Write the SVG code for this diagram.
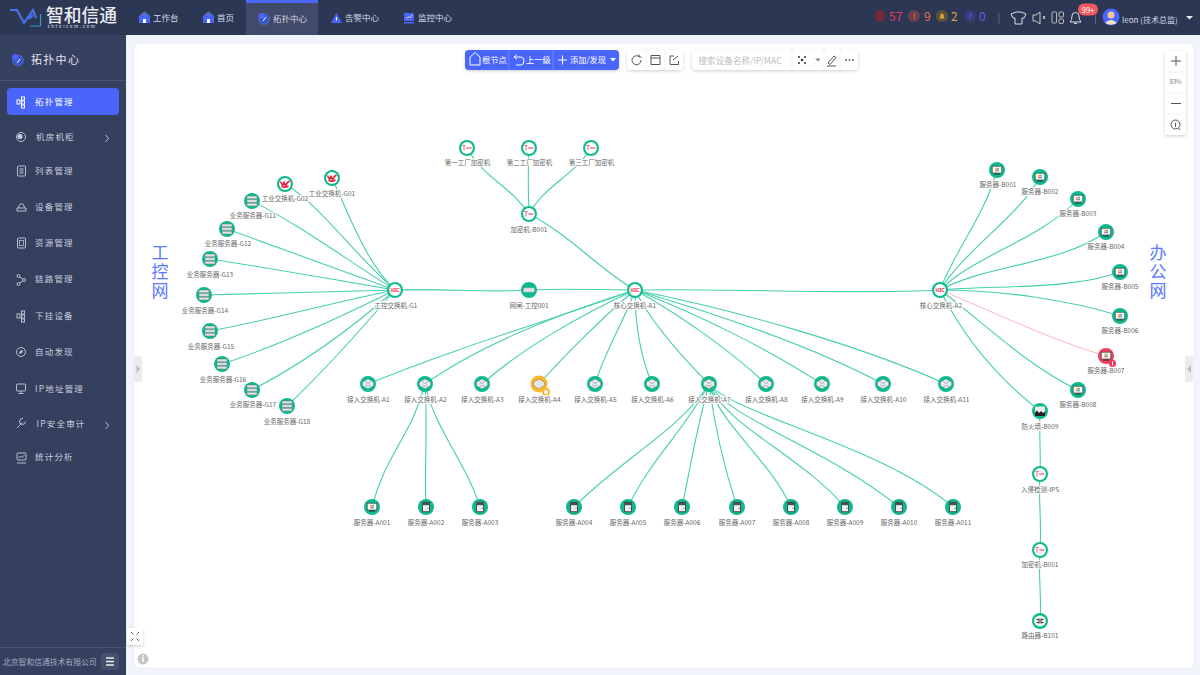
<svg xmlns="http://www.w3.org/2000/svg" xmlns:xlink="http://www.w3.org/1999/xlink" width="1200" height="675" viewBox="0 0 1200 675">
<style>
text{font-family:"Noto Sans CJK SC","Noto Sans",sans-serif}
.lb{font-size:6.5px;fill:#666;text-anchor:middle;paint-order:stroke;stroke:#fff;stroke-width:2px;stroke-linejoin:round}
.e{fill:none;stroke:#45d0ab;stroke-width:1.1}
.e2{fill:none;stroke:#ffb6c1;stroke-width:1}
.tab{font-size:8.5px;fill:#d5d9e6}
.side{font-size:8.5px;fill:#c9cede;letter-spacing:1.2px}
.ic{fill:none;stroke:#c9cede;stroke-width:.9}
.tb{font-size:8.2px;fill:#fff}
.tic{fill:none;stroke:#555;stroke-width:1}
.wic{fill:none;stroke:#fff;stroke-width:1}
.big{font-size:17px;fill:#5a78ff;writing-mode:vertical-rl;letter-spacing:2px}
.wm{font-size:17px;fill:#000;fill-opacity:.02;text-anchor:middle}
.num{font-size:12px}
.mk{font-size:7px;text-anchor:middle;font-weight:700}
</style>
<defs>
<filter id="sh" x="-20%" y="-30%" width="140%" height="170%"><feDropShadow dx="0" dy="1" stdDeviation="1.5" flood-color="#000" flood-opacity=".2"/></filter>
<clipPath id="pc"><rect x="134" y="43" width="1060" height="625" rx="5"/></clipPath>
<text id="wmt" class="wm" transform="rotate(-20)">北京智和信通技术有限公司</text>
<g id="h3c"><circle r="8" fill="#0fb98f"/><circle r="5.900" fill="#fff"/><text y="1.600" font-size="4.600" font-weight="700" fill="#ee2040" text-anchor="middle" style="font-family:'Liberation Sans',sans-serif">H3C</text></g>
<g id="ws"><circle r="8" fill="#0fb98f"/><circle r="5.900" fill="#fff"/><path d="M-4.500-2.500L-2.500 1.500-1-1.500 .8 1.500 2.500-1.500 4.500-3M-3.500 2.500Q0 4 3.500 2" fill="none" stroke="#e8203c" stroke-width="1.600"/></g>
<g id="rack"><circle r="8" fill="#0fb98f"/><g fill="#dfe1e4" stroke="#777" stroke-width=".5"><rect x="-5" y="-5" width="10" height="2.800" rx=".6"/><rect x="-5" y="-1.400" width="10" height="2.800" rx=".6"/><rect x="-5" y="2.200" width="10" height="2.800" rx=".6"/></g></g>
<g id="gw"><circle r="8" fill="#0fb98f"/><rect x="-5.500" y="-2.200" width="11" height="4.400" rx="1" fill="#e4e4e4" stroke="#888" stroke-width=".4"/></g>
<g id="enc"><circle r="8" fill="#0fb98f"/><circle r="5.900" fill="#fff"/><path d="M-4.500-2.500H-1.500M-3-2.500V2.500" stroke="#e8405a" stroke-width=".8" fill="none"/><rect x="-.8" y="-.7" width="5.300" height="1.400" fill="#ef6a7c"/></g>
<g id="acc"><circle r="8" fill="#0fb98f"/><path d="M0-5L5.500-1.800V1.500L0 4.800-5.500 1.500V-1.800Z" fill="#eceef0" stroke="#888" stroke-width=".5"/><path d="M-2.500-2L0-.5 2.500-2M-2.500 1L0 2.400 2.500 1" stroke="#777" stroke-width=".6" fill="none"/></g>
<g id="pc1"><circle r="8" fill="#0fb98f"/><rect x="-4.800" y="-3.800" width="9.600" height="6.800" fill="#fafafa" stroke="#444" stroke-width=".7"/><rect x="-3" y="3.600" width="6" height="1" fill="#333"/><rect x="-1.700" y="-2.200" width="1.600" height="1.600" fill="#f4a72c"/><rect x=".2" y="-2.200" width="1.600" height="1.600" fill="#3fb55f"/><rect x="-1.700" y="-.3" width="1.600" height="1.600" fill="#e85a4a"/><rect x=".2" y="-.3" width="1.600" height="1.600" fill="#3d8fe0"/></g>
<g id="pc2"><circle r="8" fill="#e8415f"/><rect x="-4.800" y="-3.800" width="9.600" height="6.800" fill="#fafafa" stroke="#444" stroke-width=".7"/><rect x="-3" y="3.600" width="6" height="1" fill="#333"/><rect x="-1.700" y="-2.200" width="1.600" height="1.600" fill="#f4a72c"/><rect x=".2" y="-2.200" width="1.600" height="1.600" fill="#3fb55f"/><rect x="-1.700" y="-.3" width="1.600" height="1.600" fill="#e85a4a"/><rect x=".2" y="-.3" width="1.600" height="1.600" fill="#3d8fe0"/></g>
<g id="tw"><circle r="8" fill="#0fb98f"/><rect x="-4" y="-5.200" width="8" height="10.400" rx=".8" fill="#4a4f52"/><rect x="-3" y="-1.800" width="6" height="6" fill="#eee"/><circle cx="2" cy="1.200" r=".5" fill="#333"/></g>
<g id="fw"><circle r="8" fill="#0fb98f"/><rect x="-5" y="-4.500" width="10" height="9" fill="#ececec"/><path d="M-5 5V1.500L-3-.5-1 2 1 0 3 2 5 .5V5Z" fill="#222"/></g>
<g id="rt"><circle r="8" fill="#0fb98f"/><ellipse rx="6" ry="5.400" fill="#f2f2f2"/><path d="M-3.500-1.500H-1M-3.500 1.500H-1M1-1.500H3.500M1 1.500H3.500M-1-2.500V2.500M1-2.500V2.500" stroke="#222" stroke-width=".9"/></g>
<g id="house"><path d="M0-5.500L5.500-.5V5H-5.500V-.5Z" fill="#4a66ff"/><path d="M-6-1L0-6 6-1" fill="none" stroke="#8797c8" stroke-width=".8"/><rect x="-1.500" y="1" width="3" height="4" fill="#fff"/></g>
</defs>

<rect width="1200" height="675" fill="#f2f4fc"/>
<rect x="134" y="43" width="1060" height="625" rx="5" fill="#fff" stroke="#e8eaf2" stroke-width=".6"/>
<g clip-path="url(#pc)">
<use xlink:href="#wmt" transform="translate(178,80)"/><use xlink:href="#wmt" transform="translate(525,80)"/><use xlink:href="#wmt" transform="translate(872,80)"/><use xlink:href="#wmt" transform="translate(1219,80)"/>
<use xlink:href="#wmt" transform="translate(178,252)"/><use xlink:href="#wmt" transform="translate(525,252)"/><use xlink:href="#wmt" transform="translate(872,252)"/><use xlink:href="#wmt" transform="translate(1219,252)"/>
<use xlink:href="#wmt" transform="translate(178,423)"/><use xlink:href="#wmt" transform="translate(525,423)"/><use xlink:href="#wmt" transform="translate(872,423)"/><use xlink:href="#wmt" transform="translate(1219,423)"/>
<use xlink:href="#wmt" transform="translate(178,595)"/><use xlink:href="#wmt" transform="translate(525,595)"/><use xlink:href="#wmt" transform="translate(872,595)"/><use xlink:href="#wmt" transform="translate(1219,595)"/>
</g>

<g id="topbar">
<rect width="1200" height="35" fill="#2c3754"/>
<rect x="246" width="72" height="35" fill="#414a68"/><rect x="246" width="72" height="3" fill="#4a66ff"/>
<path d="M10 10H17L24 23 33 10 36 18M29 19L33 15" fill="none" stroke="#4a70e8" stroke-width="2.200"/>
<path d="M30 26H40.500V14" fill="none" stroke="#2a9fd0" stroke-width="1.200"/>
<text y="22" fill="#e9ebf2" font-weight="500"><tspan x="46" font-size="17.800">智和信通</tspan><tspan x="47.500" dy="5.500" font-size="4.400" letter-spacing="1.600" fill="#c8ccd8">zhtolcom.com</tspan></text>
<use xlink:href="#house" x="144.500" y="18"/><use xlink:href="#house" x="208.500" y="18"/>
<circle cx="264" cy="19" r="5.500" fill="#3a55d0" stroke="#6a7aa8" stroke-width=".5"/><circle cx="261.500" cy="16" r="3" fill="#4a66ff"/><path d="M263 21L266 17" stroke="#fff" stroke-width="1"/>
<path d="M331 23L336.500 13 342 23Z" fill="#4a66ff"/><rect x="336" y="17" width="1" height="3.500" fill="#fff"/>
<rect x="404" y="13" width="10" height="8" rx="1" fill="#4a66ff"/><rect x="404" y="22" width="10" height="1.500" fill="#4a66ff"/><path d="M406 19L408 16.500 410 18 412 15" fill="none" stroke="#fff" stroke-width=".7"/>
<text class="tab" x="153" y="21">工作台</text><text class="tab" x="217" y="21">首页</text><text class="tab" x="273" y="22" fill="#fff">拓扑中心</text><text class="tab" x="345" y="21">告警中心</text><text class="tab" x="418" y="21">监控中心</text>
<circle cx="880" cy="16" r="6" fill="#6d2a3f"/><text class="num" x="889" y="21" fill="#e8385a">57</text>
<circle cx="914" cy="16" r="6" fill="#6b4048"/><text class="mk" x="914" y="18.500" fill="#e8734a">!</text><text class="num" x="924" y="21" fill="#e8734a">9</text>
<circle cx="942" cy="16" r="6" fill="#5e5338"/><path d="M939.500 18.500Q940.500 17 940.500 15A1.500 1.500 0 0 1 943.500 15Q943.500 17 944.500 18.500Z" fill="#e0a83a"/><text class="num" x="951" y="21" fill="#e0a83a">2</text>
<circle cx="970" cy="16" r="6" fill="#3c3a78"/><text class="mk" x="970" y="18.500" fill="#6a5af0">?</text><text class="num" x="979" y="21" fill="#6a5af0">0</text>
<rect x="998.500" y="13" width="1" height="11" fill="#5a6480"/>
<path d="M1011 14L1016 12H1021L1026 14 1024 18H1022V24H1015V18H1013Z" fill="none" stroke="#ddd" stroke-width="1"/>
<path d="M1033 15H1036L1040 12V24L1036 21H1033ZM1043 16L1045 19M1045 16L1043 19" fill="none" stroke="#ccc" stroke-width="1"/>
<g fill="none" stroke="#bbb" stroke-width="1"><rect x="1052" y="12" width="4.500" height="11" rx="1"/><rect x="1059" y="12" width="4.500" height="5" rx="1"/><rect x="1059" y="19" width="4.500" height="4.500" rx="1"/></g>
<path d="M1070 22Q1072 20 1072 16A3.500 3.500 0 0 1 1079 16Q1079 20 1081 22ZM1074 23.500H1077" fill="none" stroke="#ddd" stroke-width="1"/>
<rect x="1078" y="3.500" width="20" height="12" rx="6" fill="#f05a5f"/><text x="1088" y="12.500" font-size="7.500" fill="#fff" text-anchor="middle">99+</text>
<rect x="1095" y="15" width="1" height="9" fill="#5a6480"/>
<circle cx="1111" cy="17" r="8.500" fill="#4a66ff"/><circle cx="1111" cy="15" r="3.500" fill="#f4c69a"/><path d="M1105 23Q1111 17 1117 23Q1111 26.500 1105 23Z" fill="#f6e4c8"/>
<text x="1122" y="23" font-size="8" fill="#d5d9e6">leon (技术总监)</text>
<path d="M1186 16H1193L1189.500 19.500Z" fill="#eee"/>
</g>

<g id="sidebar">
<rect y="35" width="126" height="640" fill="#35405f"/>
<rect y="80" width="126" height="1" fill="#4a5472"/>
<circle cx="18" cy="60.500" r="5.500" fill="#3a55d0" stroke="#6a7aa8" stroke-width=".5"/><circle cx="15" cy="57" r="3" fill="#4a66ff"/><path d="M17 63L20 59" stroke="#fff" stroke-width="1"/>
<text x="31" y="64" font-size="11" fill="#e2e5ee" letter-spacing="1.300">拓扑中心</text>
<rect x="7" y="88" width="112" height="27" rx="4" fill="#4a66fa"/>
<g class="wic"><rect x="17" y="100" width="3" height="4"/><rect x="21.500" y="97" width="3" height="3"/><rect x="21.500" y="101" width="3" height="3"/><rect x="21.500" y="105" width="3" height="3"/></g>
<text class="side" x="35" y="105" style="fill:#fff">拓扑管理</text>
<circle class="ic" cx="21" cy="137" r="4.500"/><circle cx="20" cy="136.500" r="2.500" fill="#c9cede"/><text class="side" x="36" y="140">机房机柜</text><path class="ic" d="M105.500 135L108.500 138.500 105.500 142"/>
<rect class="ic" x="17.500" y="166" width="8" height="10" rx="1"/><path class="ic" d="M19.500 169H23.500M19.500 171H23.500M19.500 173H23.500"/><text class="side" x="35" y="174">列表管理</text>
<path class="ic" d="M17 208H26V211H17ZM18.500 208Q19 203.500 21.500 203.500T24.500 208"/><text class="side" x="35" y="210">设备管理</text>
<rect class="ic" x="17.500" y="238" width="8" height="10" rx="1"/><rect x="19.500" y="240.500" width="4" height="5" fill="none" stroke="#c9cede" stroke-width=".7"/><text class="side" x="35" y="246">资源管理</text>
<g class="ic"><circle cx="18.500" cy="276" r="1.500"/><circle cx="24" cy="280" r="1.500"/><circle cx="18.500" cy="284" r="1.500"/><path d="M20 277L22.700 279M20 283L22.700 281"/></g><text class="side" x="35" y="282">链路管理</text>
<g class="ic"><rect x="17" y="314" width="3" height="4"/><rect x="21.500" y="311" width="3" height="3"/><rect x="21.500" y="315" width="3" height="3"/><rect x="21.500" y="319" width="3" height="3"/></g><text class="side" x="35" y="319">下挂设备</text>
<circle class="ic" cx="21" cy="352" r="4.500"/><path d="M19 354L20 351 23 350 22 353Z" fill="#c9cede"/><text class="side" x="35" y="355">自动发现</text>
<rect class="ic" x="16.500" y="384" width="9" height="7" rx="1"/><path class="ic" d="M21 391V393M18.500 393.500H23.500"/><text class="side" x="35" y="392">IP地址管理</text>
<path class="ic" d="M17 428L22.500 422.500M23 418.500A3 3 0 1 0 25.500 421.500"/><text class="side" x="36.500" y="427">IP安全审计</text><path class="ic" d="M105.500 422L108.500 425.500 105.500 429"/>
<rect class="ic" x="17" y="453" width="9" height="7" rx="1"/><path class="ic" d="M17 463H26M18.500 458L20.500 456 22 457.500 24.500 455"/><text class="side" x="35" y="460">统计分析</text>
<rect y="647" width="126" height="1" fill="#4a5472"/>
<text x="3" y="665" font-size="7.800" fill="#a6acc0">北京智和信通技术有限公司</text>
<rect x="101" y="653" width="18" height="17" rx="3" fill="#454f6e"/><path d="M106 658H114M106 661.500H114M106 665H114" stroke="#eee" stroke-width="1.400"/>
</g>

<g id="connectors">
<path class="e" d="M332,178C345,205 365,262 395,290"/>
<path class="e" d="M285,184C320,205 350,250 395,290"/>
<path class="e" d="M252,201C300,225 350,262 395,290"/>
<path class="e" d="M227,229C285,250 340,270 395,290"/>
<path class="e" d="M210,259C270,268 335,280 395,290"/>
<path class="e" d="M204,295C265,294 330,292 395,290"/>
<path class="e" d="M210,331C270,320 335,302 395,290"/>
<path class="e" d="M222,364C280,345 345,315 395,290"/>
<path class="e" d="M252,390C300,365 350,330 395,290"/>
<path class="e" d="M287,406C320,375 365,325 395,290"/>
<path class="e" d="M395,290C440,288 490,293 529,290"/>
<path class="e" d="M529,290C565,288 600,290 635,290"/>
<path class="e" d="M635,290C730,288 850,295 940,290"/>
<path class="e" d="M467,148C485,180 510,185 529,214"/>
<path class="e" d="M529,148C528,170 528,190 529,214"/>
<path class="e" d="M591,148C575,175 545,185 529,214"/>
<path class="e" d="M529,214C570,235 600,270 635,290"/>
<path class="e" d="M635,290C550,320 450,350 368,384"/>
<path class="e" d="M635,290C555,315 480,345 425,384"/>
<path class="e" d="M635,290C580,315 520,350 482,384"/>
<path class="e" d="M635,290C605,315 560,360 539,384"/>
<path class="e" d="M635,290C625,320 605,350 595,384"/>
<path class="e" d="M635,290C635,320 640,355 652,384"/>
<path class="e" d="M635,290C650,320 680,355 709,384"/>
<path class="e" d="M635,290C680,315 730,350 766,384"/>
<path class="e" d="M635,290C700,315 770,350 822,384"/>
<path class="e" d="M635,290C720,315 810,345 883,384"/>
<path class="e" d="M635,290C735,310 860,345 946,384"/>
<path class="e" d="M425,384C412,435 385,455 372,507"/>
<path class="e" d="M425,384C428,430 424,470 426,507"/>
<path class="e" d="M425,384C435,430 465,460 480,507"/>
<path class="e" d="M709,384C680,430 620,460 574,507"/>
<path class="e" d="M709,384C685,430 650,460 628,507"/>
<path class="e" d="M709,384C695,435 690,470 682,507"/>
<path class="e" d="M709,384C715,430 725,470 737,507"/>
<path class="e" d="M709,384C720,425 770,460 791,507"/>
<path class="e" d="M709,384C725,425 800,455 845,507"/>
<path class="e" d="M709,384C730,420 830,450 899,507"/>
<path class="e" d="M709,384C735,415 880,445 953,507"/>
<path class="e" d="M940,290C955,250 985,215 997,170"/>
<path class="e" d="M940,290C965,250 1020,215 1040,177"/>
<path class="e" d="M940,290C975,255 1040,240 1078,199"/>
<path class="e" d="M940,290C985,265 1060,265 1106,232"/>
<path class="e" d="M940,290C1000,285 1070,290 1120,272"/>
<path class="e" d="M940,290C1000,290 1070,300 1120,316"/>
<path class="e2" d="M940,290C990,310 1050,340 1106,356"/>
<path class="e" d="M940,290C975,315 1025,365 1078,390"/>
<path class="e" d="M940,290C965,340 1000,380 1040,411"/>
<path class="e" d="M1040,411C1039,435 1041,455 1040,474"/>
<path class="e" d="M1040,474C1038,500 1042,520 1040,550"/>
<path class="e" d="M1040,550C1038,575 1042,600 1040,621"/>
</g>

<g id="n-g01"><use xlink:href="#ws" x="332" y="178"/><text class="lb" x="332" y="196">工业交换机-G01</text></g>
<g id="n-g02"><use xlink:href="#ws" x="285" y="184"/><text class="lb" x="285" y="201">工业交换机-G02</text></g>
<g id="n-g11"><use xlink:href="#rack" x="252" y="201"/><text class="lb" x="253" y="218">业务服务器-G11</text></g>
<g id="n-g12"><use xlink:href="#rack" x="227" y="229"/><text class="lb" x="228" y="246">业务服务器-G12</text></g>
<g id="n-g13"><use xlink:href="#rack" x="210" y="259"/><text class="lb" x="210" y="277">业务服务器-G13</text></g>
<g id="n-g14"><use xlink:href="#rack" x="204" y="295"/><text class="lb" x="205" y="313">业务服务器-G14</text></g>
<g id="n-g15"><use xlink:href="#rack" x="210" y="331"/><text class="lb" x="211" y="349">业务服务器-G15</text></g>
<g id="n-g16"><use xlink:href="#rack" x="222" y="364"/><text class="lb" x="223" y="382">业务服务器-G16</text></g>
<g id="n-g17"><use xlink:href="#rack" x="252" y="390"/><text class="lb" x="253" y="407">业务服务器-G17</text></g>
<g id="n-g18"><use xlink:href="#rack" x="287" y="406"/><text class="lb" x="287" y="424">业务服务器-G18</text></g>
<g id="n-g1"><use xlink:href="#h3c" x="395" y="290"/><text class="lb" x="396" y="307.500">工控交换机-G1</text></g>
<g id="n-gw"><use xlink:href="#gw" x="529" y="290"/><text class="lb" x="529" y="307.500">网闸-工控001</text></g>
<g id="n-a1"><use xlink:href="#h3c" x="635" y="290"/><text class="lb" x="635" y="307.500">核心交换机-A1</text></g>
<g id="n-a2"><use xlink:href="#h3c" x="940" y="290"/><text class="lb" x="941" y="307.500">核心交换机-A2</text></g>
<g id="n-e1"><use xlink:href="#enc" x="467" y="148"/><text class="lb" x="467.500" y="165">第一工厂加密机</text></g>
<g id="n-e2"><use xlink:href="#enc" x="529" y="148"/><text class="lb" x="529.500" y="165">第二工厂加密机</text></g>
<g id="n-e3"><use xlink:href="#enc" x="591" y="148"/><text class="lb" x="591.500" y="165">第三工厂加密机</text></g>
<g id="n-eb"><use xlink:href="#enc" x="529" y="214"/><text class="lb" x="529" y="231.500">加密机-B001</text></g>
<g id="n-sa1"><use xlink:href="#acc" x="368" y="384"/><text class="lb" x="368.500" y="401.500">接入交换机-A1</text></g>
<g id="n-sa2"><use xlink:href="#acc" x="425" y="384"/><text class="lb" x="425.500" y="401.500">接入交换机-A2</text></g>
<g id="n-sa3"><use xlink:href="#acc" x="482" y="384"/><text class="lb" x="482.500" y="401.500">接入交换机-A3</text></g>
<g id="n-sa4"><circle cx="539" cy="384" r="8.500" fill="#fbb62e"/><path d="M539 379L544.500 382.200V385.500L539 388.800 533.500 385.500V382.200Z" fill="#e4e6e8" stroke="#777" stroke-width=".5"/><circle cx="546" cy="392" r="3" fill="#fff" stroke="#fbb62e" stroke-width="1.800"/><text class="lb" x="539.500" y="401.500">接入交换机-A4</text></g>
<g id="n-sa5"><use xlink:href="#acc" x="595" y="384"/><text class="lb" x="595.500" y="401.500">接入交换机-A5</text></g>
<g id="n-sa6"><use xlink:href="#acc" x="652" y="384"/><text class="lb" x="652.500" y="401.500">接入交换机-A6</text></g>
<g id="n-sa7"><use xlink:href="#acc" x="709" y="384"/><text class="lb" x="709.500" y="401.500">接入交换机-A7</text></g>
<g id="n-sa8"><use xlink:href="#acc" x="766" y="384"/><text class="lb" x="766.500" y="401.500">接入交换机-A8</text></g>
<g id="n-sa9"><use xlink:href="#acc" x="822" y="384"/><text class="lb" x="822.500" y="401.500">接入交换机-A9</text></g>
<g id="n-sa10"><use xlink:href="#acc" x="883" y="384"/><text class="lb" x="883.500" y="401.500">接入交换机-A10</text></g>
<g id="n-sa11"><use xlink:href="#acc" x="946" y="384"/><text class="lb" x="946.500" y="401.500">接入交换机-A11</text></g>
<g id="n-a001"><use xlink:href="#pc1" x="372" y="507"/><text class="lb" x="372" y="524.500">服务器-A001</text></g>
<g id="n-a002"><use xlink:href="#tw" x="426" y="507"/><text class="lb" x="426" y="524.500">服务器-A002</text></g>
<g id="n-a003"><use xlink:href="#tw" x="480" y="507"/><text class="lb" x="480" y="524.500">服务器-A003</text></g>
<g id="n-a004"><use xlink:href="#tw" x="574" y="507"/><text class="lb" x="574" y="524.500">服务器-A004</text></g>
<g id="n-a005"><use xlink:href="#tw" x="628" y="507"/><text class="lb" x="628" y="524.500">服务器-A005</text></g>
<g id="n-a006"><use xlink:href="#tw" x="682" y="507"/><text class="lb" x="682" y="524.500">服务器-A006</text></g>
<g id="n-a007"><use xlink:href="#tw" x="737" y="507"/><text class="lb" x="737" y="524.500">服务器-A007</text></g>
<g id="n-a008"><use xlink:href="#tw" x="791" y="507"/><text class="lb" x="791" y="524.500">服务器-A008</text></g>
<g id="n-a009"><use xlink:href="#tw" x="845" y="507"/><text class="lb" x="845" y="524.500">服务器-A009</text></g>
<g id="n-a010"><use xlink:href="#tw" x="899" y="507"/><text class="lb" x="899" y="524.500">服务器-A010</text></g>
<g id="n-a011"><use xlink:href="#tw" x="953" y="507"/><text class="lb" x="953" y="524.500">服务器-A011</text></g>
<g id="n-b001"><use xlink:href="#pc1" x="997" y="170"/><text class="lb" x="998" y="187">服务器-B001</text></g>
<g id="n-b002"><use xlink:href="#pc1" x="1040" y="177"/><text class="lb" x="1040" y="194">服务器-B002</text></g>
<g id="n-b003"><use xlink:href="#pc1" x="1078" y="199"/><text class="lb" x="1078" y="216">服务器-B003</text></g>
<g id="n-b004"><use xlink:href="#pc1" x="1106" y="232"/><text class="lb" x="1106" y="249">服务器-B004</text></g>
<g id="n-b005"><use xlink:href="#pc1" x="1120" y="272"/><text class="lb" x="1120" y="289">服务器-B005</text></g>
<g id="n-b006"><use xlink:href="#pc1" x="1120" y="316"/><text class="lb" x="1120" y="333">服务器-B006</text></g>
<g id="n-b007"><use xlink:href="#pc2" x="1106" y="356"/><circle cx="1112.500" cy="363.500" r="3.500" fill="#f0385a"/><rect x="1112" y="361.500" width="1" height="4" fill="#fff"/><text class="lb" x="1106" y="373">服务器-B007</text></g>
<g id="n-b008"><use xlink:href="#pc1" x="1078" y="390"/><text class="lb" x="1078" y="407">服务器-B008</text></g>
<g id="n-b009"><use xlink:href="#fw" x="1040" y="411"/><text class="lb" x="1040" y="428.500">防火墙-B009</text></g>
<g id="n-ips"><use xlink:href="#enc" x="1040" y="474"/><text class="lb" x="1040" y="491.500">入侵检测-IPS</text></g>
<g id="n-eb2"><use xlink:href="#enc" x="1040" y="550"/><text class="lb" x="1040" y="567">加密机-B001</text></g>
<g id="n-r101"><use xlink:href="#rt" x="1040" y="621"/><text class="lb" x="1040" y="638">路由器-B101</text></g>

<g id="group-labels">
<text class="big" x="160" y="244">工控网</text>
<text class="big" x="1158" y="244">办公网</text>
</g>

<g id="toolbar">
<rect x="465" y="50" width="154" height="20" rx="4" fill="#4a66ff" filter="url(#sh)"/>
<path d="M509 50V70M553 50V70" stroke="#7d92ff" stroke-width=".7"/>
<path class="wic" d="M470 65V57L475 52.500 480 57V65Z"/><text class="tb" x="482" y="62.500">根节点</text>
<path class="wic" d="M514 57H521Q524 57 524 61T521 65H516M514 57L517 54.500M514 57L517 59.500"/><text class="tb" x="526" y="62.500">上一级</text>
<path class="wic" d="M558 60H567M562.500 55.500V64.500"/><text class="tb" x="570" y="62.500">添加/发现</text><path d="M610 58H616L613 61.500Z" fill="#fff"/>
<rect x="627" y="50" width="56" height="20" rx="4" fill="#fff" filter="url(#sh)"/>
<path d="M646 50V70M665 50V70" stroke="#eee" stroke-width=".8"/>
<path class="tic" d="M641 60A4.500 4.500 0 1 1 639 56.500M639 54.500V57H641.500"/>
<path class="tic" d="M651 55.500H660V64.500H651ZM651 58H660"/>
<path class="tic" d="M674 56H670V64.500H678.500V61M673 60L678 56"/>
<rect x="692" y="50" width="166" height="20" rx="4" fill="#fff" filter="url(#sh)"/>
<path d="M792 50V70M824 50V70M840 50V70" stroke="#eee" stroke-width=".8"/>
<text x="698.500" y="63.500" font-size="8.600" fill="#bdbdc4">搜索设备名称/IP/MAC</text>
<g fill="#333"><circle cx="802" cy="60" r="1.300"/><circle cx="799" cy="57" r="1"/><circle cx="805" cy="57" r="1"/><circle cx="799" cy="63" r="1"/><circle cx="805" cy="63" r="1"/></g>
<path d="M815 58.500H821L818 61.500Z" fill="#888"/>
<path class="tic" d="M828 63L834 56 836 57.500 830 64.500ZM827 66H836"/>
<g fill="#555"><circle cx="846" cy="60" r=".9"/><circle cx="849.500" cy="60" r=".9"/><circle cx="853" cy="60" r=".9"/></g>
</g>

<g id="zoombar">
<rect x="1165" y="51" width="21" height="84" rx="2" fill="#fff" filter="url(#sh)"/>
<path d="M1165 72H1186M1165 93H1186M1165 114H1186" stroke="#eee" stroke-width=".8"/>
<path class="tic" d="M1171 61H1181M1176 56V66"/>
<text x="1175.500" y="84" font-size="6" fill="#777" text-anchor="middle">83%</text>
<path class="tic" d="M1171 103.500H1181"/>
<circle class="tic" cx="1175.500" cy="124.500" r="4.500"/><path class="tic" d="M1175.500 123V127M1178.500 128L1180 130"/>
</g>

<g id="panel-controls">
<rect x="134" y="356" width="8" height="26" rx="1" fill="#ececec"/><path d="M136.500 365L140 369 136.500 373Z" fill="#bbb"/>
<rect x="1185" y="356" width="8" height="26" rx="1" fill="#ececec"/><path d="M1191 365L1187 369 1191 373Z" fill="#bbb"/>
<rect x="127" y="628" width="16" height="17" rx="2" fill="#fff" filter="url(#sh)"/>
<path d="M131 632L133.500 634.500M139 632L136.500 634.500M131 641L133.500 638.500M139 641L136.500 638.500" stroke="#666" stroke-width="1"/>
<circle cx="143" cy="659" r="5.500" fill="#c5c5c5"/><rect x="142.300" y="657" width="1.400" height="5" fill="#fff"/><rect x="142.300" y="655" width="1.400" height="1.200" fill="#fff"/>
</g>
</svg>
